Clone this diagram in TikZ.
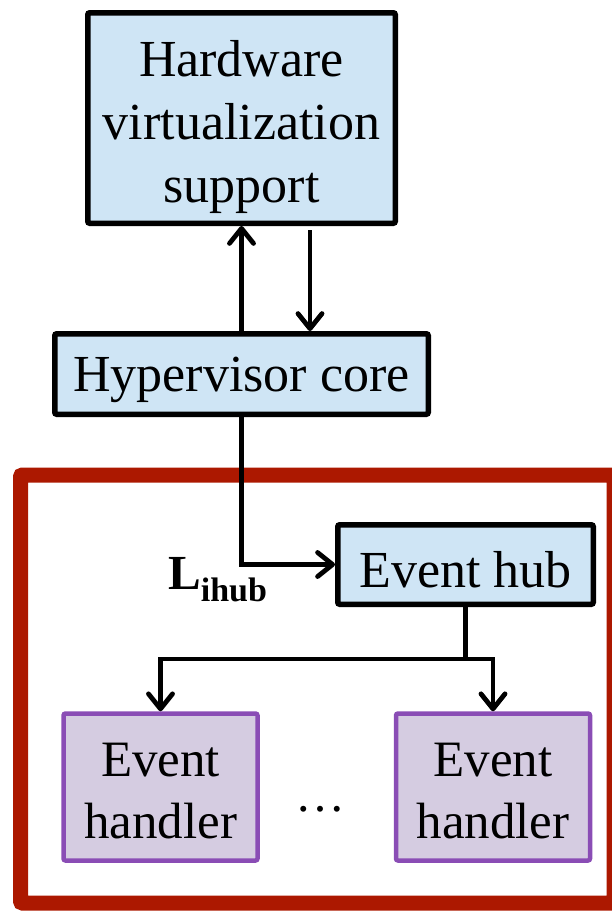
\documentclass[tikz,border=0pt]{standalone}
\usepackage{fontspec}
\setmainfont{Liberation Serif}
\usetikzlibrary{arrows.meta,calc}
\definecolor{boxblue}{RGB}{207,229,245}
\definecolor{boxpurple}{RGB}{213,204,225}
\definecolor{edgepurple}{RGB}{138,77,181}
\definecolor{framered}{RGB}{172,24,0}
\tikzset{
  bluebox/.style={draw=black, fill=boxblue, line width=5.5pt, rounded corners=2pt, inner sep=0pt},
  handlerbox/.style={draw=edgepurple, fill=boxpurple, line width=4.5pt, rounded corners=2pt, inner sep=0pt, minimum width=194pt, minimum height=147pt},
  boxtext/.style={inner sep=0pt, align=center, font=\fontsize{52}{63}\selectfont},
  conn/.style={line width=4.8pt, black},
  arr/.style={conn, -{Straight Barb[length=15pt,width=24pt,round]}}
}
\begin{document}
\begin{tikzpicture}[x=1pt,y=-1pt]
\useasboundingbox (0,0) rectangle (612,911);
% red frame
\draw[framered, line width=15pt, rounded corners=2pt] (20.5,475) rectangle (614,903);
% boxes
\node[bluebox, minimum width=307.5pt, minimum height=210.5pt] (hw) at (241.5,118) {};
\node[bluebox, minimum width=373.5pt, minimum height=80.5pt] (hc) at (241.5,374) {};
\node[bluebox, minimum width=255.5pt, minimum height=79.5pt] (eh) at (465.5,564.5) {};
\node[handlerbox] (h1) at (160.5,787) {};
\node[handlerbox] (h2) at (493,787) {};
% texts
\node[boxtext] (hwt) at ($(hw.center)+(0,9)$) {Hardware\\virtualization\\support};
\node[boxtext] (hct) at ($(hc.center)+(0,6)$) {Hypervisor core};
\node[boxtext] (eht) at ($(eh.center)+(0,5)$) {Event hub};
\node[boxtext, font=\fontsize{51}{62}\selectfont] (h1t) at ($(h1.center)+(0,4)$) {Event\\handler};
\node[boxtext, font=\fontsize{51}{62}\selectfont] (h2t) at ($(h2.center)+(0,4)$) {Event\\handler};
\node[anchor=base, font=\fontsize{50}{60}\selectfont, inner sep=0pt] (dots) at (320,811) {\ldots};
\node[anchor=base west, inner sep=0pt, font=\fontsize{49}{58}\selectfont\bfseries] (lab) at (168,589) {L\raisebox{-12pt}{\fontsize{34}{36}\selectfont ihub}};
% connectors
\draw[arr] (hc.north) -- (hw.south);
\draw[arr] ($(hw.south)+(68.5,4)$) -- ($(hc.north)+(68.5,0)$);
\draw[arr] (hc.south) |- (eh.west);
\coordinate (j) at (465.5,659);
\draw[conn] (eh.south) -- (j);
\draw[arr] (j) -| (h1.north);
\draw[arr] (j) -| (h2.north);
\end{tikzpicture}
\end{document}
